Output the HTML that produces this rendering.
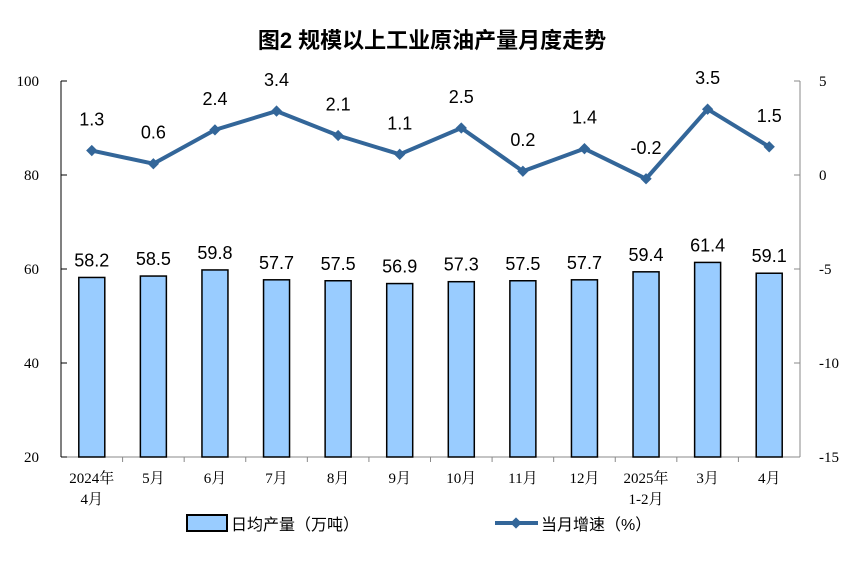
<!DOCTYPE html>
<html><head><meta charset="utf-8"><style>
body{margin:0;background:#fff;width:865px;height:560px;overflow:hidden}
svg text{font-family:"Liberation Sans","Noto Sans CJK SC",sans-serif}
.tk{font-family:"Liberation Serif","Noto Serif CJK SC",serif;font-size:15px;fill:#000}
</style></head><body>
<svg id="chart" width="865" height="560" xmlns="http://www.w3.org/2000/svg">
<text x="432" y="48" text-anchor="middle" font-size="22" font-weight="bold" style="font-family:'Liberation Sans','Noto Sans CJK SC',sans-serif">图2  规模以上工业原油产量月度走势</text>
<g id="axes"></g><g id="bars"></g><g id="line"></g>
<g>
<rect x="187" y="515" width="40" height="16" fill="#99ccff" stroke="#000" stroke-width="2"/>
<text x="231" y="530" font-size="16">日均产量（万吨）</text>
<line x1="495" y1="523" x2="538" y2="523" stroke="#336699" stroke-width="4"/>
<rect x="512" y="519" width="8" height="8" fill="#336699" transform="rotate(45 516 523)"/>
<text x="541" y="530" font-size="16">当月增速（%）</text>
</g>
</svg>
<script>
const categories=["2024年|4月","5月","6月","7月","8月","9月","10月","11月","12月","2025年|1-2月","3月","4月"];
const production=[58.2,58.5,59.8,57.7,57.5,56.9,57.3,57.5,57.7,59.4,61.4,59.1];
const growth=[1.3,0.6,2.4,3.4,2.1,1.1,2.5,0.2,1.4,-0.2,3.5,1.5];
const leftTicks=[20,40,60,80,100];
const rightTicks=[-15,-10,-5,0,5];
const NS="http://www.w3.org/2000/svg";
const X0=61,X1=800,Y0=457,Y1=81;
const step=(X1-X0)/categories.length;
const xc=i=>X0+step*(i+0.5);
const yL=v=>Y0-(v-20)/80*(Y0-Y1);
const yR=v=>Y0-(v+15)/20*(Y0-Y1);
function mk(tag,attrs,parent){const e=document.createElementNS(NS,tag);for(const k in attrs)e.setAttribute(k,attrs[k]);parent.appendChild(e);return e;}
const ax=document.getElementById('axes'),bg=document.getElementById('bars'),lg=document.getElementById('line');
let a=mk('line',{x1:X0,y1:Y1,x2:X0,y2:Y0,stroke:'#000'},ax);

a=mk('line',{x1:X1,y1:Y1,x2:X1,y2:Y0,stroke:'#888'},ax);

a=mk('line',{x1:X0,y1:Y0,x2:X1,y2:Y0,stroke:'#888'},ax);

leftTicks.forEach(v=>{const y=yL(v);mk('line',{x1:X0,y1:y,x2:X0+6,y2:y,stroke:'#000'},ax);
const t=mk('text',{x:X0-22,y:y+5,'text-anchor':'end',class:'tk'},ax);t.textContent=v;
});
rightTicks.forEach(v=>{const y=yR(v);mk('line',{x1:X1-6,y1:y,x2:X1,y2:y,stroke:'#888'},ax);
const t=mk('text',{x:X1+19,y:y+5,class:'tk'},ax);t.textContent=v;
});
for(let i=1;i<categories.length;i++){const x=X0+step*i;mk('line',{x1:x,y1:Y0,x2:x,y2:Y0+5,stroke:'#888'},ax);}
categories.forEach((c,i)=>{const parts=c.split('|');parts.forEach((p,j)=>{const t=mk('text',{x:xc(i),y:Y0+26+j*21,'text-anchor':'middle',class:'tk'},ax);t.textContent=p;
});});
production.forEach((v,i)=>{const y=yL(v);const r=mk('rect',{x:xc(i)-13,y:y,width:26,height:Y0-y,fill:'#99ccff',stroke:'#000','stroke-width':1.5},bg);

const t=mk('text',{x:xc(i),y:y-11,'text-anchor':'middle','font-size':18},bg);t.textContent=v.toFixed(1);
});
const pts=growth.map((v,i)=>xc(i)+','+yR(v)).join(' ');
const pl=mk('polyline',{points:pts,fill:'none',stroke:'#336699','stroke-width':4,'stroke-linejoin':'round'},lg);

growth.forEach((v,i)=>{const x=xc(i),y=yR(v);const m=mk('rect',{x:x-4,y:y-4,width:8,height:8,fill:'#336699',transform:`rotate(45 ${x} ${y})`},lg);

const t=mk('text',{x:x,y:y-25,'text-anchor':'middle','font-size':18},lg);t.textContent=v.toFixed(1);
});
</script>
</body></html>
